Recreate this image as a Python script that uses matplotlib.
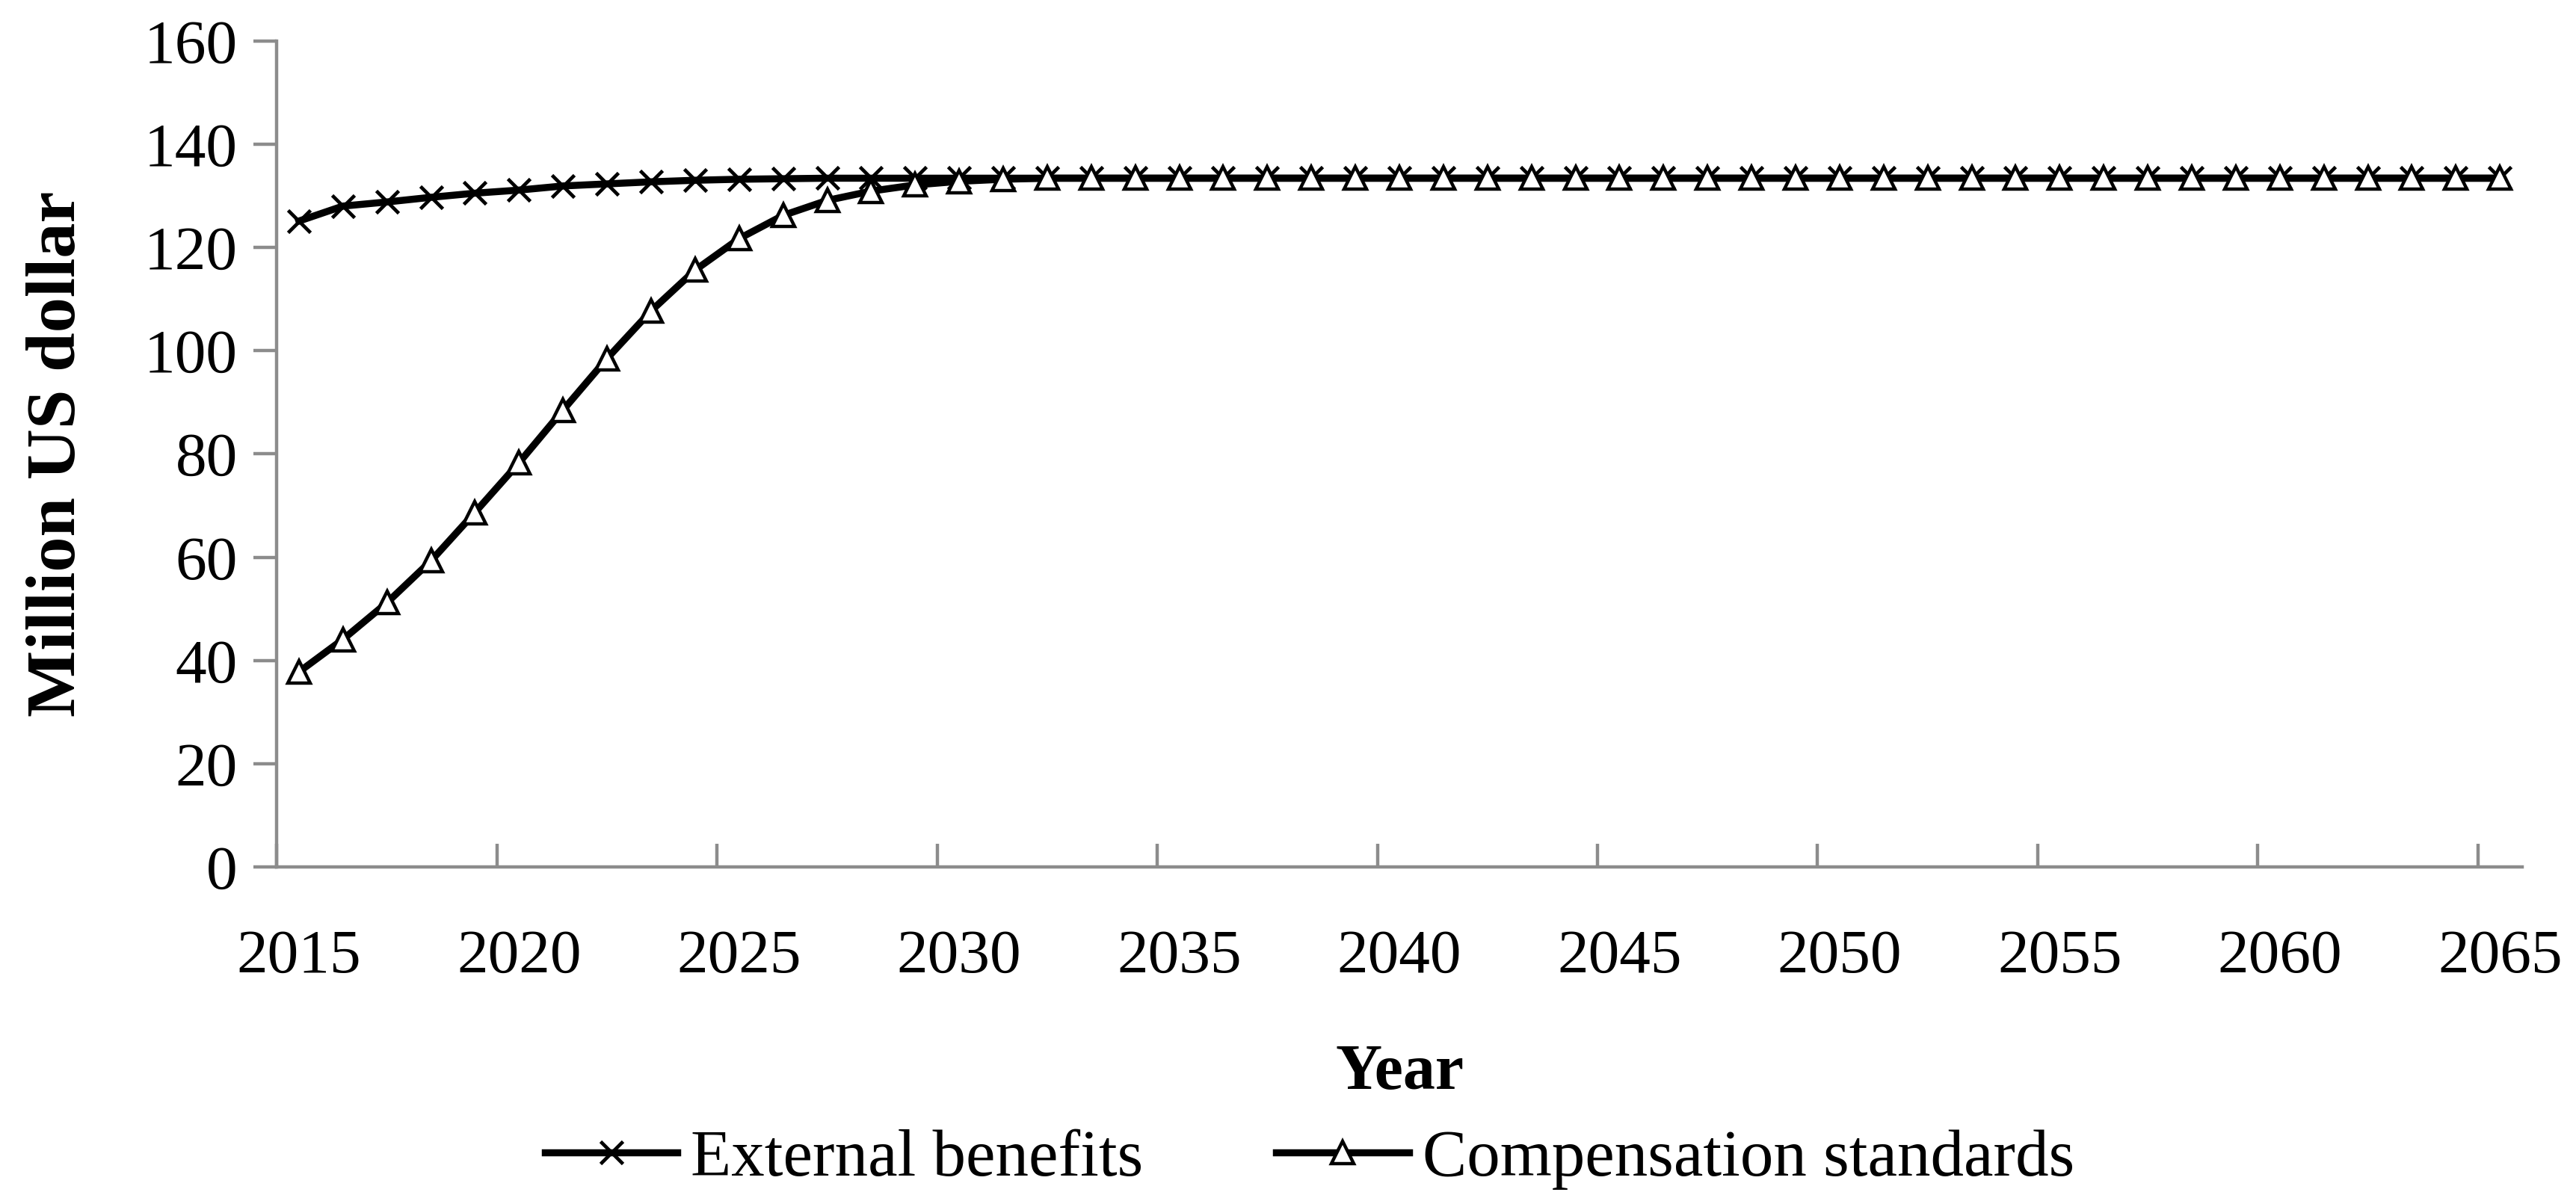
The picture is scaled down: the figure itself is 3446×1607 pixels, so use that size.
import numpy as np
import matplotlib
matplotlib.use("Agg")
import matplotlib.pyplot as plt

years = list(range(2015, 2066))

external = [125.1, 128.0, 128.8, 129.7, 130.5, 131.1, 131.9, 132.3, 132.7, 133.0,
            133.2, 133.3, 133.4] + [133.4] * 38

compensation = [37.8, 44.1, 51.2, 59.3, 68.7, 78.3, 88.5, 98.5, 107.7, 115.6,
                121.7, 126.2, 129.1, 130.9, 132.1, 132.8, 133.2] + [133.4] * 34

plt.rcParams['font.family'] = ['Liberation Serif', 'DejaVu Serif']

fig = plt.figure(figsize=(17.23, 8.035), dpi=200)
ax = fig.add_axes([0.1075, 0.278, 0.8715, 0.688])

x = np.arange(len(years))
ax.plot(x, external, color='black', lw=3.4, marker='x', ms=10.5, mew=1.7,
        label='External benefits')
ax.plot(x, compensation, color='black', lw=3.4, marker='^', ms=10.5, mew=1.6,
        mfc='white', mec='black', label='Compensation standards')

ax.set_xlim(-0.5, len(years) - 0.5)
ax.set_ylim(0, 160)
ax.set_yticks(np.arange(0, 161, 20))

# category axis: tick marks between categories, labels on categories
ax.set_xticks(np.arange(-0.5, len(years) - 1, 5))
ax.set_xticklabels([])
ax.set_xticks(np.arange(0, len(years), 5), minor=True)
ax.set_xticklabels([str(y) for y in years[::5]], minor=True)
ax.tick_params(axis='x', which='minor', length=0, pad=30, labelsize=30)
ax.tick_params(axis='x', which='major', length=11, width=1.6, color='#8c8c8c',
               direction='in')
ax.tick_params(axis='y', length=11, width=1.6, color='#8c8c8c', direction='out',
               labelsize=30, pad=8)

for s in ['top', 'right']:
    ax.spines[s].set_visible(False)
for s in ['left', 'bottom']:
    ax.spines[s].set_color('#8c8c8c')
    ax.spines[s].set_linewidth(1.6)

ax.set_xlabel('Year', fontsize=31, fontweight='bold', labelpad=28)
ax.set_ylabel('Million US dollar', fontsize=34, fontweight='bold', labelpad=26)

ax.legend(loc='upper center', bbox_to_anchor=(0.46, -0.245), ncol=2, frameon=False,
          fontsize=32, handlelength=2.0, handletextpad=0.2, columnspacing=2.0)

fig.savefig('out.png', dpi=200)
